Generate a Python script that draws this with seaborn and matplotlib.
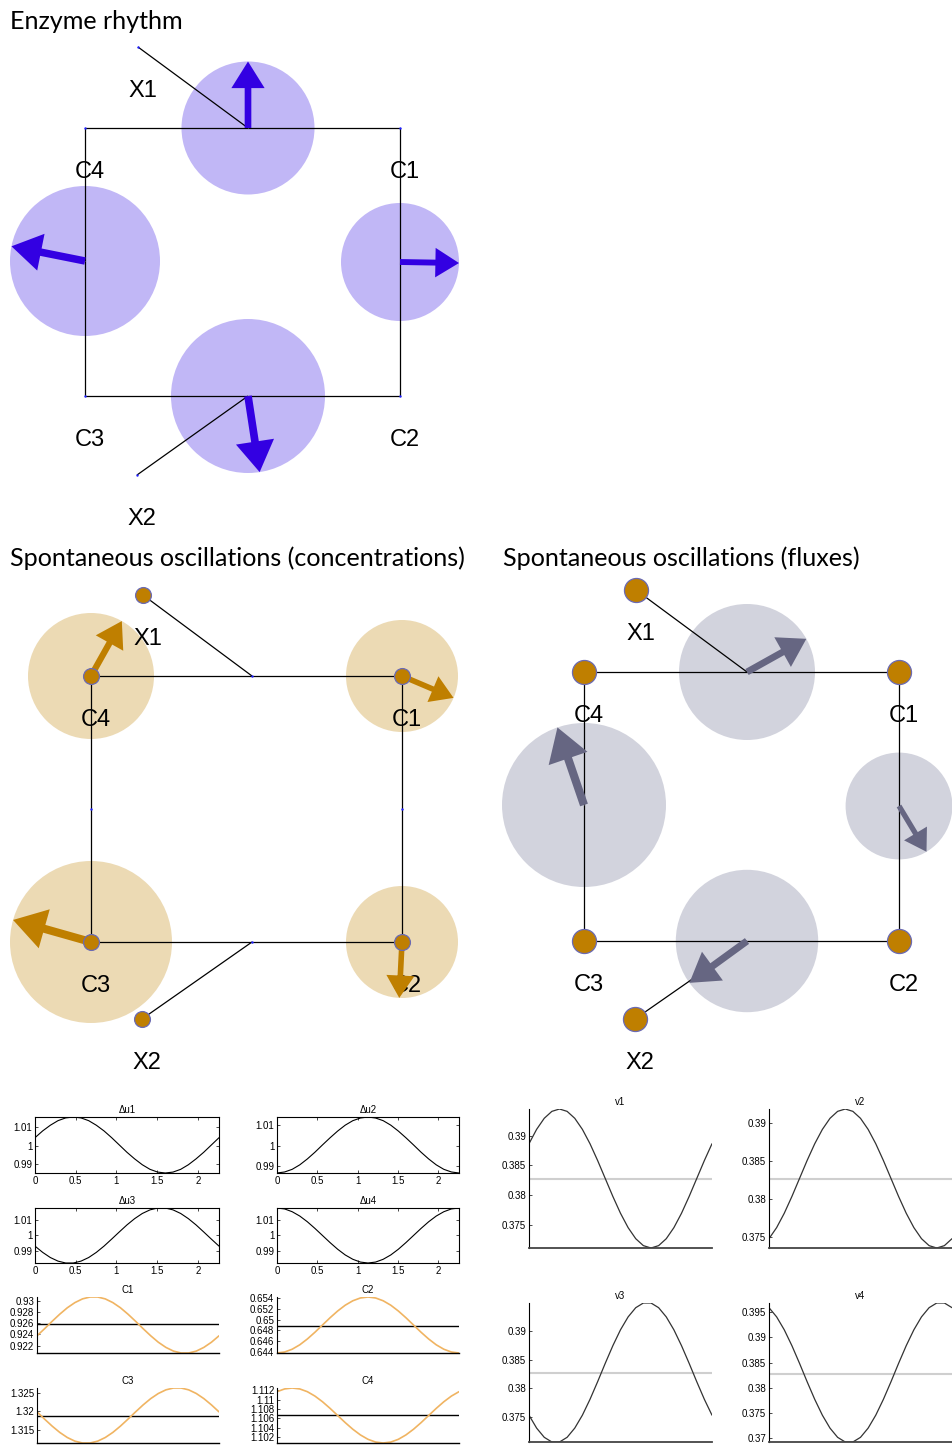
import numpy as np
import matplotlib
matplotlib.use("Agg")
import matplotlib.pyplot as plt
from matplotlib.patches import Circle, FancyArrow
from matplotlib.ticker import FuncFormatter
import seaborn as sns

# ------------------------------------------------------------------ data
# time axis of the small plots (one oscillation period)
t = [0.0, 0.0942, 0.1883, 0.2825, 0.3767, 0.4708, 0.5650, 0.6592, 0.7533,
     0.8475, 0.9417, 1.0358, 1.1300, 1.2242, 1.3183, 1.4125, 1.5067, 1.6008,
     1.6950, 1.7892, 1.8833, 1.9775, 2.0717, 2.1658, 2.2600]

du1 = [1.0043, 1.0080, 1.0111, 1.0136, 1.0151, 1.0156, 1.0151, 1.0136, 1.0111,
       1.0080, 1.0043, 1.0003, 0.9963, 0.9927, 0.9895, 0.9870, 0.9855, 0.9850,
       0.9855, 0.9870, 0.9895, 0.9927, 0.9963, 1.0003, 1.0043]
du2 = [0.9865, 0.9870, 0.9883, 0.9905, 0.9934, 0.9967, 1.0003, 1.0038, 1.0071,
       1.0100, 1.0122, 1.0135, 1.0140, 1.0135, 1.0122, 1.0100, 1.0071, 1.0038,
       1.0003, 0.9967, 0.9934, 0.9905, 0.9883, 0.9870, 0.9865]
du3 = [0.9930, 0.9890, 0.9857, 0.9834, 0.9822, 0.9822, 0.9834, 0.9857, 0.9890,
       0.9930, 0.9975, 1.0021, 1.0066, 1.0106, 1.0139, 1.0162, 1.0174, 1.0174,
       1.0162, 1.0139, 1.0106, 1.0066, 1.0021, 0.9975, 0.9930]
du4 = [1.0176, 1.0170, 1.0152, 1.0124, 1.0087, 1.0044, 0.9998, 0.9952, 0.9909,
       0.9872, 0.9844, 0.9826, 0.9820, 0.9826, 0.9844, 0.9872, 0.9909, 0.9952,
       0.9998, 1.0044, 1.0087, 1.0124, 1.0152, 1.0170, 1.0176]

c1 = [0.92375, 0.92503, 0.92637, 0.92765, 0.92881, 0.92974, 0.93041, 0.93075,
      0.93075, 0.93041, 0.92974, 0.92881, 0.92765, 0.92637, 0.92503, 0.92375,
      0.92259, 0.92166, 0.92099, 0.92065, 0.92065, 0.92099, 0.92166, 0.92259,
      0.92375]
c2 = [0.64380, 0.64398, 0.64450, 0.64532, 0.64640, 0.64765, 0.64900, 0.65035,
      0.65160, 0.65268, 0.65350, 0.65402, 0.65420, 0.65402, 0.65350, 0.65268,
      0.65160, 0.65035, 0.64900, 0.64765, 0.64640, 0.64532, 0.64450, 0.64398,
      0.64380]
c3 = [1.31978, 1.31782, 1.31593, 1.31423, 1.31285, 1.31187, 1.31137, 1.31137,
      1.31187, 1.31285, 1.31423, 1.31593, 1.31782, 1.31978, 1.32167, 1.32337,
      1.32475, 1.32573, 1.32623, 1.32623, 1.32573, 1.32475, 1.32337, 1.32167,
      1.31978]
c4 = [1.11171, 1.11230, 1.11250, 1.11230, 1.11171, 1.11077, 1.10955, 1.10813,
      1.10660, 1.10507, 1.10365, 1.10243, 1.10149, 1.10090, 1.10070, 1.10090,
      1.10149, 1.10243, 1.10365, 1.10507, 1.10660, 1.10813, 1.10955, 1.11077,
      1.11171]
c_steady = [0.9258, 0.6488, 1.3186, 1.1067]

v1 = [0.38868, 0.39111, 0.39298, 0.39415, 0.39455, 0.39415, 0.39298, 0.39111,
      0.38868, 0.38584, 0.38280, 0.37976, 0.37692, 0.37449, 0.37262, 0.37145,
      0.37105, 0.37145, 0.37262, 0.37449, 0.37692, 0.37976, 0.38280, 0.38584,
      0.38868]
v2 = [0.37478, 0.37624, 0.37813, 0.38034, 0.38272, 0.38510, 0.38731, 0.38920,
      0.39066, 0.39158, 0.39189, 0.39158, 0.39066, 0.38920, 0.38731, 0.38510,
      0.38272, 0.38034, 0.37813, 0.37624, 0.37478, 0.37386, 0.37355, 0.37386,
      0.37478]
v3 = [0.37538, 0.37315, 0.37156, 0.37075, 0.37075, 0.37156, 0.37315, 0.37538,
      0.37812, 0.38117, 0.38435, 0.38740, 0.39014, 0.39237, 0.39396, 0.39477,
      0.39477, 0.39396, 0.39237, 0.39014, 0.38740, 0.38435, 0.38117, 0.37812,
      0.37538]
v4 = [0.39596, 0.39412, 0.39154, 0.38838, 0.38485, 0.38117, 0.37764, 0.37448,
      0.37190, 0.37006, 0.36913, 0.36913, 0.37006, 0.37190, 0.37448, 0.37764,
      0.38117, 0.38485, 0.38838, 0.39154, 0.39412, 0.39596, 0.39689, 0.39689,
      0.39596]
v_steady = 0.3827

du_titles = ["\u0394u1", "\u0394u2", "\u0394u3", "\u0394u4"]
c_titles = ["C1", "C2", "C3", "C4"]
v_titles = ["v1", "v2", "v3", "v4"]
du_xticks = [0, 0.5, 1, 1.5, 2]
du_yticks = [0.99, 1.0, 1.01]
c_yticks = [[0.922, 0.924, 0.926, 0.928, 0.93],
            [0.644, 0.646, 0.648, 0.65, 0.652, 0.654],
            [1.315, 1.32, 1.325],
            [1.102, 1.104, 1.106, 1.108, 1.11, 1.112]]
v_yticks = [[0.375, 0.38, 0.385, 0.39],
            [0.375, 0.38, 0.385, 0.39],
            [0.375, 0.38, 0.385, 0.39],
            [0.37, 0.375, 0.38, 0.385, 0.39, 0.395]]

# network diagrams: metabolites, reactions and edges
node_names = ["C1", "C2", "C3", "C4", "X1", "X2"]
rxn_names = ["R1", "R2", "R3", "R4"]
edges = [("C4", "R1"), ("R1", "C1"), ("C1", "R2"), ("R2", "C2"),
         ("C2", "R3"), ("R3", "C3"), ("C3", "R4"), ("R4", "C4"),
         ("X1", "R1"), ("X2", "R3")]

# panel A: enzyme rhythm (circles on reactions)
enz_node_x = [400, 400, 85, 85, 138, 137]
enz_node_y = [128, 396, 396, 128, 47, 475]
enz_rxn_x = [248, 400, 248, 85]
enz_rxn_y = [128, 262, 396, 261]
enz_amp = [66.5, 59, 77, 75]
enz_phase = [90, -1, -81.3, 168.7]

# panel B: concentrations (circles on metabolites C1..C4)
conc_node_x = [402, 402, 91, 91, 143, 142]
conc_node_y = [676, 942, 942, 676, 595, 1019]
conc_rxn_x = [252, 402, 252, 91]
conc_rxn_y = [676, 809, 942, 809]
conc_amp = [56, 56, 81, 63]
conc_phase = [-23, -92.8, 164.2, 60.7]

# panel C: fluxes (circles on reactions)
flux_node_x = [899, 899, 584, 584, 636, 635]
flux_node_y = [672, 941, 941, 672, 590, 1019]
flux_rxn_x = [747, 899, 747, 584]
flux_rxn_y = [672, 806, 941, 805]
flux_amp = [68, 53.4, 71.2, 82]
flux_phase = [29.2, -59, -144, 108.9]

# ------------------------------------------------------------------ style
sns.set_theme(style="ticks")
plt.rcParams["font.family"] = ["Liberation Sans", "DejaVu Sans"]
plt.rcParams["text.color"] = "black"
plt.rcParams["xtick.color"] = "black"
plt.rcParams["ytick.color"] = "black"

W, H = 952, 1445
fig = plt.figure(figsize=(W / 100, H / 100), dpi=100)


def px_axes(x0, y0, x1, y1):
    return fig.add_axes([x0 / W, 1 - y1 / H, (x1 - x0) / W, (y1 - y0) / H])


# ------------------------------------------------------------------ diagrams
dax = px_axes(0, 0, W, 1085)
dax.set_xlim(0, W)
dax.set_ylim(1085, 0)
dax.axis("off")


def draw_network(nx_, ny_, rx_, ry_, on_rxn, amp, phase, circ_col, arr_col,
                 node_s, dots_on_nodes, dots_on_rxns):
    pos = {n: (x, y) for n, x, y in zip(node_names, nx_, ny_)}
    pos.update({r: (x, y) for r, x, y in zip(rxn_names, rx_, ry_)})
    cx, cy = (rx_, ry_) if on_rxn else (nx_[:4], ny_[:4])
    for x, y, r in zip(cx, cy, amp):
        dax.add_patch(Circle((x, y), r, facecolor=circ_col, edgecolor="none",
                             zorder=1))
    for n in node_names:
        x, y = pos[n]
        dax.text(x + 4.5, y + 50, n, ha="center", va="baseline", fontsize=17,
                 family=["Liberation Sans"], zorder=2)
    for a, b in edges:
        dax.plot([pos[a][0], pos[b][0]], [pos[a][1], pos[b][1]],
                 color="black", lw=0.9, zorder=3, solid_capstyle="butt")
    for x, y, r, ph in zip(cx, cy, amp, phase):
        th = np.deg2rad(ph)
        dax.add_patch(FancyArrow(x, y, r * np.cos(th), -r * np.sin(th),
                                 width=0.1 * r, head_width=0.5 * r,
                                 head_length=0.4 * r, length_includes_head=True,
                                 color=arr_col, lw=0, zorder=4))
    if node_s:
        sns.scatterplot(x=nx_, y=ny_, ax=dax, s=node_s, color="#bf7f00",
                        edgecolor="#6a6ab4", linewidth=0.9, zorder=5,
                        legend=False)
    if dots_on_nodes:
        dax.scatter(nx_, ny_, s=3, color="#2020ff", zorder=6, lw=0)
    if dots_on_rxns:
        dax.scatter(rx_, ry_, s=3, color="#2020ff", zorder=6, lw=0)


draw_network(enz_node_x, enz_node_y, enz_rxn_x, enz_rxn_y, True, enz_amp,
             enz_phase, "#c1b7f6", "#3300e2", 0, True, False)
draw_network(conc_node_x, conc_node_y, conc_rxn_x, conc_rxn_y, False, conc_amp,
             conc_phase, "#ecdab4", "#bf7f00", 130, False, True)
draw_network(flux_node_x, flux_node_y, flux_rxn_x, flux_rxn_y, True, flux_amp,
             flux_phase, "#d2d3dd", "#666682", 300, False, False)

title_kw = dict(fontsize=18.1, family=["Lato", "DejaVu Sans"], va="baseline",
                ha="left", color="black")
dax.text(10, 29, "Enzyme rhythm", **title_kw)
dax.text(10, 566, "Spontaneous oscillations (concentrations)", **title_kw)
dax.text(503, 566, "Spontaneous oscillations (fluxes)", **title_kw)

# ------------------------------------------------------------------ small plots
fmt = FuncFormatter(lambda v, p: "%g" % round(v, 6))


def du_plot(rect, y, title):
    ax = px_axes(*rect)
    sns.lineplot(x=t, y=y, ax=ax, color="black", lw=0.8)
    ax.set_xlim(t[0], t[-1])
    ax.set_ylim(min(y), max(y))
    ax.set_xticks(du_xticks)
    ax.set_yticks(du_yticks)
    ax.xaxis.set_major_formatter(fmt)
    ax.yaxis.set_major_formatter(fmt)
    for s in ax.spines.values():
        s.set_visible(True)
        s.set_color("black")
        s.set_linewidth(0.8)
    ax.tick_params(direction="in", length=2, width=0.5, labelsize=7, pad=2,
                   top=True, right=True, left=True, bottom=True)
    ax.set_title(title, fontsize=7, pad=3)
    ax.set_xlabel("")
    ax.set_ylabel("")
    return ax


du_plot((35, 1117, 219, 1173), du1, du_titles[0])
du_plot((277, 1117, 459, 1173), du2, du_titles[1])
du_plot((35, 1208, 219, 1263), du3, du_titles[2])
du_plot((277, 1208, 459, 1263), du4, du_titles[3])


def line_plot(rect, y, title, yticks, color, lw, steady, st_col, st_lw,
              bottom_col, bottom_lw):
    ax = px_axes(*rect)
    ax.axhline(steady, color=st_col, lw=st_lw, zorder=1)
    sns.lineplot(x=t, y=y, ax=ax, color=color, lw=lw, zorder=2)
    ax.set_xlim(t[0], t[-1])
    ax.set_ylim(min(y), max(y))
    ax.set_xticks([])
    ax.set_yticks(yticks)
    ax.yaxis.set_major_formatter(fmt)
    ax.spines["top"].set_visible(False)
    ax.spines["right"].set_visible(False)
    ax.spines["left"].set_color("black")
    ax.spines["left"].set_linewidth(0.8)
    ax.spines["bottom"].set_color(bottom_col)
    ax.spines["bottom"].set_linewidth(bottom_lw)
    ax.tick_params(axis="y", direction="in", length=2, width=0.5, labelsize=7,
                   pad=2, left=True)
    ax.set_title(title, fontsize=7, pad=3)
    ax.set_xlabel("")
    ax.set_ylabel("")
    return ax


c_rects = [(37, 1297, 219, 1353), (277, 1297, 459, 1353),
           (37, 1388, 219, 1443), (277, 1388, 459, 1443)]
for rect, y, ttl, yt, st in zip(c_rects, [c1, c2, c3, c4], c_titles, c_yticks,
                                c_steady):
    line_plot(rect, y, ttl, yt, "#f0b462", 1.2, st, "black", 1.0, "black", 1.0)

v_rects = [(529, 1109, 712, 1248), (769, 1109, 952, 1248),
           (529, 1303, 712, 1442), (769, 1303, 952, 1442)]
for rect, y, ttl, yt in zip(v_rects, [v1, v2, v3, v4], v_titles, v_yticks):
    line_plot(rect, y, ttl, yt, "#333333", 0.9, v_steady, "#cfcfcf", 1.5,
              "#444444", 1.3)

fig.savefig("out.png", dpi=100)
